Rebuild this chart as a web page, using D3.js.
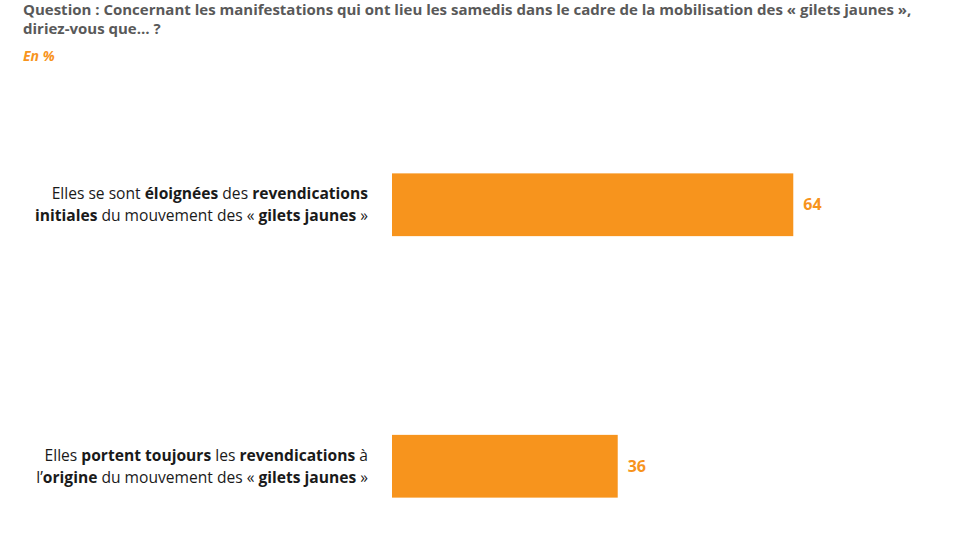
<!DOCTYPE html>
<html>
<head>
<meta charset="utf-8">
<script src="https://cdn.jsdelivr.net/npm/d3@7"></script>
<style>
  body { margin: 0; background: #fff; }
  svg { display: block; font-family: "Open Sans", Lato, sans-serif; }
</style>
</head>
<body>
<svg id="chart" width="961" height="541"></svg>
<script>
// question text (two lines) and unit
var titleLines = [
    "Question : Concernant les manifestations qui ont lieu les samedis dans le cadre de la mobilisation des « gilets jaunes »,",
    "diriez-vous que… ?"
];
var unitLabel = "En %";

// categories: each one is a list of lines, each line a list of [text, bold]
var categories = ["eloignees", "origine"];
var categoryLabels = [
    [
        [["Elles se sont ", false], ["éloignées", true], [" des ", false], ["revendications", true]],
        [["initiales", true], [" du mouvement des « ", false], ["gilets jaunes", true], [" »", false]]
    ],
    [
        [["Elles ", false], ["portent toujours", true], [" les ", false], ["revendications", true], [" à", false]],
        [["l’", false], ["origine", true], [" du mouvement des « ", false], ["gilets jaunes", true], [" »", false]]
    ]
];
var values = [64, 36];

var orange = "#F7941D";

var svg = d3.select("#chart");

var x = d3.scaleLinear().domain([0, 100]).range([392, 1019]);
var y = d3.scaleBand()
    .domain(categories)
    .range([108, 563])
    .paddingInner(0.76)
    .paddingOuter(0.25);

// title
svg.append("g").selectAll("text")
    .data(titleLines)
    .enter().append("text")
    .attr("x", 23)
    .attr("y", function(d, i) { return 14.5 + i * 19.5; })
    .style("font-size", "15px")
    .style("font-weight", "bold")
    .style("fill", "#595959")
    .text(function(d) { return d; });

svg.append("text")
    .attr("x", 23)
    .attr("y", 61)
    .style("font-size", "14px")
    .style("font-weight", "bold")
    .style("font-style", "italic")
    .style("fill", orange)
    .text(unitLabel);

// bars
var rows = svg.selectAll(".row")
    .data(categories)
    .enter().append("g")
    .attr("class", "row")
    .attr("transform", function(d) { return "translate(0," + y(d) + ")"; });

rows.append("rect")
    .attr("x", x(0))
    .attr("width", function(d, i) { return x(values[i]) - x(0); })
    .attr("height", y.bandwidth())
    .style("fill", orange);

rows.append("text")
    .attr("x", function(d, i) { return x(values[i]) + 10; })
    .attr("y", y.bandwidth() / 2)
    .attr("dy", "0.35em")
    .style("font-size", "16px")
    .style("font-weight", "bold")
    .style("fill", orange)
    .text(function(d, i) { return values[i]; });

// category labels, right aligned against the bars
rows.each(function(d, i) {
    var g = d3.select(this);
    var lines = categoryLabels[i];
    lines.forEach(function(line, li) {
        var t = g.append("text")
            .attr("x", 368)
            .attr("y", y.bandwidth() / 2 + (li - 0.5) * 22)
            .attr("dy", "0.35em")
            .style("text-anchor", "end")
            .style("font-size", "15.6px")
            .style("fill", "#1a1a1a");
        line.forEach(function(seg) {
            t.append("tspan")
                .style("font-weight", seg[1] ? "bold" : "normal")
                .text(seg[0]);
        });
    });
});
</script>
</body>
</html>
